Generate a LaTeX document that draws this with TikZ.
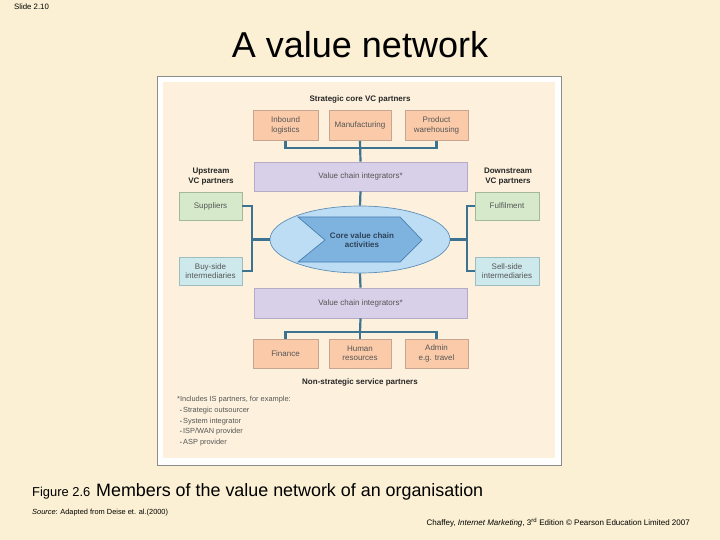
\documentclass[tikz,border=0pt]{standalone}
\usepackage{fontspec}
\setmainfont{Liberation Sans}
\usetikzlibrary{shapes.geometric}
\definecolor{pagebg}{HTML}{FBF0D3}
\definecolor{panel}{HTML}{FDF1DD}
\definecolor{orangef}{HTML}{FBCBA9}
\definecolor{oranged}{HTML}{C6A690}
\definecolor{purplef}{HTML}{D8D0E8}
\definecolor{purpled}{HTML}{B4ABC8}
\definecolor{greenf}{HTML}{D6EACB}
\definecolor{greend}{HTML}{A3B79A}
\definecolor{cyanf}{HTML}{CDE9EC}
\definecolor{cyand}{HTML}{9DBDC1}
\definecolor{connc}{HTML}{3C7391}
\definecolor{ellf}{HTML}{BCDDF4}
\definecolor{elld}{HTML}{5F8FB8}
\definecolor{chevf}{HTML}{7EB3E0}
\definecolor{chevd}{HTML}{4A7FAE}
\definecolor{coretxt}{HTML}{2E4257}
\definecolor{lbl}{HTML}{555555}
\tikzset{
  base/.style={draw, line width=0.6pt, inner sep=1pt, align=center, text=lbl,
    font=\fontsize{8}{9.4}\selectfont},
  obox/.style={base, fill=orangef, draw=oranged, minimum width=64pt, minimum height=30pt},
  pbox/.style={base, fill=purplef, draw=purpled, minimum width=213pt, minimum height=29pt},
  gbox/.style={base, fill=greenf, draw=greend, minimum width=63pt, minimum height=28pt},
  cbox/.style={base, fill=cyanf, draw=cyand, minimum width=63pt, minimum height=28pt},
  head/.style={align=center, text=black!85, font=\bfseries\fontsize{8}{9.6}\selectfont, inner sep=0pt},
  conn/.style={draw=connc, line width=2.2pt},
  note/.style={anchor=west, text=lbl, font=\fontsize{7.4}{8.5}\selectfont, inner sep=0pt}
}
\newcommand{\smbul}{{\fontsize{5}{5}\selectfont\textbullet}\,}
\begin{document}
\begin{tikzpicture}[x=1pt,y=-1pt]
\useasboundingbox (0,0) rectangle (720,540);
\fill[pagebg] (0,0) rectangle (720,540);
% frame
\draw[black!45, line width=0.8pt, fill=white] (157,76) rectangle (561,465);
\fill[panel] (163,82) rectangle (555,458);
% top texts
\node[anchor=north west, font=\fontsize{7.8}{9}\selectfont, inner sep=0pt] (slide) at (14,4) {Slide 2.10};
\node[font=\fontsize{36}{40}\selectfont, inner sep=0pt] (title) at (360,45) {A value network};
% headings
\node[head] (hstrat) at (360,99) {Strategic core VC partners};
\node[head] (hup) at (211,176.5) {Upstream\\VC partners};
\node[head] (hdown) at (508,176.5) {Downstream\\VC partners};
\node[head] (hnon) at (360,382) {Non-strategic service partners};
% top boxes
\node[obox, minimum width=65pt] (inb) at (285.5,125.5) {Inbound\\logistics};
\node[obox, minimum width=62pt] (man) at (360,125.5) {Manufacturing};
\node[obox, minimum width=63pt] (prod) at (436.5,125.5) {Product\\warehousing};
% integrators
\node[pbox] (vci1) at (360.5,176.5) {Value chain integrators*};
\node[pbox, minimum height=30pt] (vci2) at (360.5,303) {Value chain integrators*};
% side boxes
\node[gbox] (sup) at (210.5,206) {Suppliers};
\node[gbox, minimum width=64pt] (ful) at (507,206) {Fulfilment};
\node[cbox] (buy) at (210.5,271) {Buy-side\\intermediaries};
\node[cbox, minimum width=64pt] (sell) at (507,271) {Sell-side\\intermediaries};
% bottom boxes
\node[obox, minimum width=65pt, minimum height=29pt] (fin) at (285.5,353.5) {Finance};
\node[obox, minimum width=62pt, minimum height=29pt] (hr) at (360,353.5) {Human\\resources};
\node[obox, minimum width=63pt, minimum height=29pt] (adm) at (436.5,353.5) {Admin\\e.g. travel};
% ellipse and chevron
\node[ellipse, draw=elld, fill=ellf, line width=0.7pt, minimum width=180pt, minimum height=67pt, inner sep=0pt] (ell) at (360,239.5) {};
\draw[draw=chevd, fill=chevf, line width=0.7pt] (298,217) -- (400,217) -- (422,240) -- (400,262) -- (298,262) -- (325,240) -- cycle;
\node[align=center, text=coretxt, font=\bfseries\fontsize{8}{9.6}\selectfont, inner sep=0pt] (core) at (362,240) {Core value chain\\activities};
% connectors
\coordinate (tj) at (360,148);
\coordinate (bj) at (360,332);
\coordinate (lj) at (252,239.5);
\coordinate (rj) at (467,239.5);
\draw[conn] (inb.south) |- (tj) -| (prod.south);
\draw[conn] (man.south) -- (vci1.north);
\draw[conn] (vci1.south) -- (ell.north);
\draw[conn] (ell.south) -- (vci2.north);
\draw[conn] (vci2.south) -- (bj);
\draw[conn] (fin.north) |- (bj) -| (adm.north);
\draw[conn] (bj) -- (hr.north);
\draw[conn] (sup.east) -| (lj) |- (buy.east);
\draw[conn] (lj) -- (ell.west);
\draw[conn] (ful.west) -| (rj) |- (sell.west);
\draw[conn] (rj) -- (ell.east);
% footnote
\node[note] (n0) at (177,400) {*Includes IS partners, for example:};
\node[note] (n1) at (180,411) {\smbul Strategic outsourcer};
\node[note] (n2) at (180,421.5) {\smbul System integrator};
\node[note] (n3) at (180,432) {\smbul ISP/WAN provider};
\node[note] (n4) at (180,442.5) {\smbul ASP provider};
% caption
\node[anchor=base west, font=\fontsize{12.9}{14}\selectfont, inner sep=0pt] (fig) at (32,496) {Figure 2.6};
\node[anchor=base west, font=\fontsize{17.9}{20}\selectfont, inner sep=0pt] (cap) at (96,496) {Members of the value network of an organisation};
\node[anchor=base west, font=\fontsize{7.4}{8}\selectfont, inner sep=0pt] (src) at (32,514) {\textit{Source}: Adapted from Deise et. al.(2000)};
\node[anchor=base east, font=\fontsize{8}{9}\selectfont, inner sep=0pt] (cred) at (690,525) {Chaffey, \textit{Internet Marketing}, 3\textsuperscript{rd} Edition \textcopyright{} Pearson Education Limited 2007};
\end{tikzpicture}
\end{document}
